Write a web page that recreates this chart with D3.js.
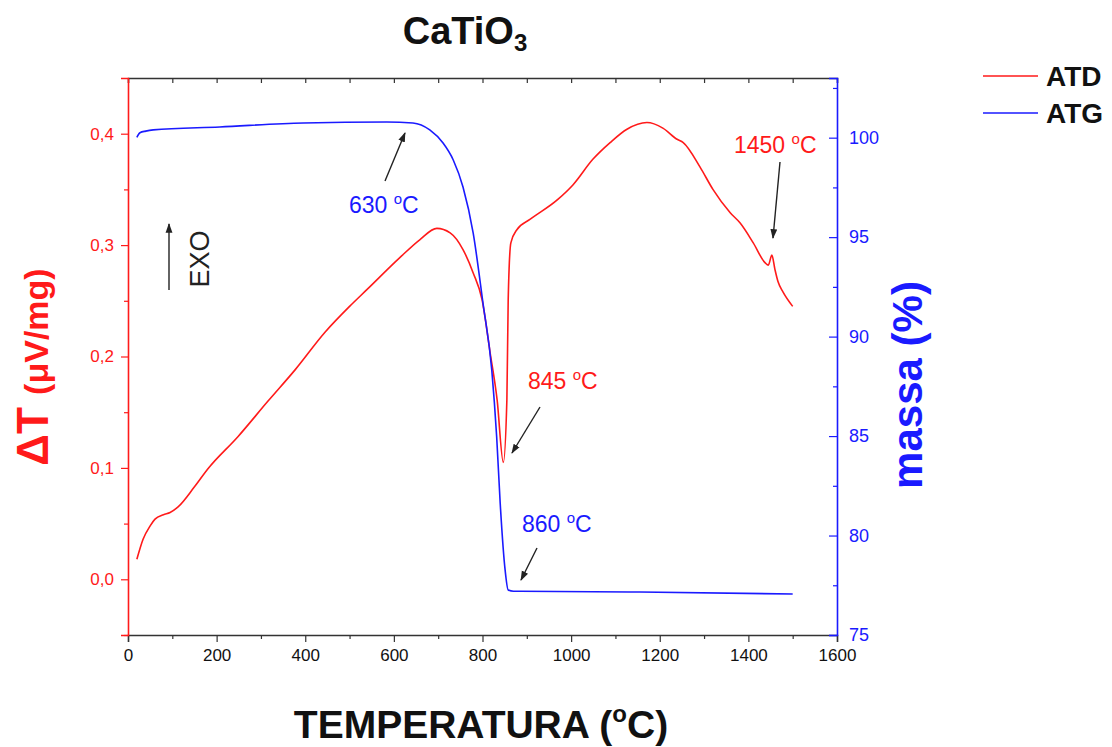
<!DOCTYPE html>
<html>
<head>
<meta charset="utf-8">
<script src="https://cdn.jsdelivr.net/npm/d3@7"></script>
<style>
  html, body { margin: 0; padding: 0; background: #fff; }
  svg { display: block; font-family: "Liberation Sans", Arial, sans-serif; }
</style>
</head>
<body>
<svg id="chart" width="1112" height="747"></svg>
<script>
// ---- data ----
const atdTemp = [20, 34, 50, 61, 80, 95, 113, 150, 180, 248, 316, 377, 445, 500, 539, 614, 659, 697, 727, 756, 779, 799, 817, 833, 847, 855, 858, 864, 878, 907, 970, 1004, 1049, 1088, 1126, 1171, 1207, 1239, 1253, 1291, 1320, 1359, 1381, 1411, 1438, 1445, 1453, 1460, 1467, 1478, 1500];
const atdValue = [0.018, 0.036, 0.048, 0.054, 0.058, 0.060, 0.065, 0.083, 0.099, 0.128, 0.160, 0.188, 0.222, 0.245, 0.260, 0.289, 0.305, 0.315, 0.311, 0.296, 0.275, 0.251, 0.204, 0.161, 0.105, 0.161, 0.251, 0.302, 0.314, 0.323, 0.341, 0.354, 0.377, 0.392, 0.404, 0.410, 0.405, 0.395, 0.392, 0.370, 0.350, 0.329, 0.320, 0.302, 0.284, 0.282, 0.291, 0.278, 0.267, 0.258, 0.245];
const atgTemp = [20, 27, 40, 57, 207, 396, 584, 643, 681, 711, 734, 756, 779, 801, 821, 832, 840, 851, 858, 870, 885, 1155, 1500];
const atgMass = [100.02, 100.25, 100.33, 100.39, 100.54, 100.74, 100.79, 100.74, 100.39, 99.73, 98.88, 97.52, 95.2, 91.7, 88.3, 84.95, 81.6, 78.27, 77.26, 77.2, 77.2, 77.16, 77.06];

const xTicks = [0, 200, 400, 600, 800, 1000, 1200, 1400, 1600];
const leftTicks = [0.0, 0.1, 0.2, 0.3, 0.4];
const rightTicks = [75, 80, 85, 90, 95, 100];
const seriesNames = ["ATD", "ATG"];
const seriesColors = ["#ff1a1a", "#1a1aff"];
const annotations = [
  {label: "630 ", color: "#1a1aff", tx: 349, ty: 213, ax1: 385, ay1: 181, ax2: 405, ay2: 133},
  {label: "845 ", color: "#ff1a1a", tx: 528, ty: 389, ax1: 540, ay1: 407, ax2: 512, ay2: 453},
  {label: "860 ", color: "#1a1aff", tx: 522, ty: 532, ax1: 537, ay1: 548, ax2: 521, ay2: 580},
  {label: "1450 ", color: "#ff1a1a", tx: 734, ty: 153, ax1: 780, ay1: 162, ax2: 773, ay2: 238}
];

// ---- layout ----
const svg = d3.select("#chart");
const L = 128, R = 837, T = 78, B = 635;
const x = d3.scaleLinear().domain([0, 1600]).range([L, R]);
const yL = d3.scaleLinear().domain([-0.05, 0.45]).range([B, T]);
const yR = d3.scaleLinear().domain([75, 103]).range([B, T]);
const fmtL = d => d3.format(".1f")(d).replace(".", ",");

svg.append("defs").append("marker")
  .attr("id", "arrow").attr("viewBox", "0 0 10 10").attr("refX", 9).attr("refY", 5)
  .attr("markerWidth", 7).attr("markerHeight", 7).attr("orient", "auto")
  .append("path").attr("d", "M0,1.5 L10,5 L0,8.5 Z").attr("fill", "#222");

// top axis (ticks inward)
const gTop = svg.append("g").attr("transform", `translate(0,${T})`)
  .call(d3.axisBottom(x).tickValues(d3.range(0, 1601, 100)).tickSize(5).tickFormat(""));
gTop.select(".domain").attr("stroke", "#333").attr("stroke-width", 1.5);
gTop.selectAll(".tick line").attr("stroke", "#333").attr("stroke-width", 1.2);

// bottom axis
const gBot = svg.append("g").attr("transform", `translate(0,${B})`)
  .call(d3.axisBottom(x).tickValues(d3.range(100, 1600, 200)).tickSize(4).tickFormat(""));
gBot.select(".domain").remove();
gBot.selectAll(".tick line").attr("stroke", "#333").attr("stroke-width", 1.2);
const gBot2 = svg.append("g").attr("transform", `translate(0,${B})`)
  .call(d3.axisBottom(x).tickValues(xTicks).tickSize(7).tickPadding(6).tickFormat(d3.format("d")));
gBot2.select(".domain").attr("stroke", "#333").attr("stroke-width", 1.5);
gBot2.selectAll(".tick line").attr("stroke", "#333").attr("stroke-width", 1.2);
gBot2.selectAll("text").attr("font-size", 17).attr("fill", "#111").attr("dy", "0.75em");

// left axis (red, ticks outward)
const gL1 = svg.append("g").attr("transform", `translate(${L},0)`)
  .call(d3.axisLeft(yL).tickValues([-0.05, 0.05, 0.15, 0.25, 0.35]).tickSize(4).tickFormat(""));
gL1.select(".domain").remove();
gL1.selectAll(".tick line").attr("stroke", "#ff1a1a").attr("stroke-width", 1.2);
const gL = svg.append("g").attr("transform", `translate(${L},0)`)
  .call(d3.axisLeft(yL).tickValues(leftTicks).tickSize(7).tickPadding(7).tickFormat(fmtL));
gL.select(".domain").attr("stroke", "#ff1a1a").attr("stroke-width", 1.6);
gL.selectAll(".tick line").attr("stroke", "#ff1a1a").attr("stroke-width", 1.2);
gL.selectAll("text").attr("font-size", 17).attr("fill", "#ff1a1a");

// right axis (blue, ticks inward)
const gR1 = svg.append("g").attr("transform", `translate(${R},0)`)
  .call(d3.axisRight(yR).tickValues([77.5, 82.5, 87.5, 92.5, 97.5, 102.5]).tickSize(-4).tickFormat(""));
gR1.select(".domain").remove();
gR1.selectAll(".tick line").attr("stroke", "#1a1aff").attr("stroke-width", 1.2);
const gR = svg.append("g").attr("transform", `translate(${R},0)`)
  .call(d3.axisRight(yR).tickValues(rightTicks).tickSize(-8).tickPadding(12).tickFormat(d3.format("d")));
gR.select(".domain").attr("stroke", "#1a1aff").attr("stroke-width", 1.6);
gR.selectAll(".tick line").attr("stroke", "#1a1aff").attr("stroke-width", 1.2);
gR.selectAll("text").attr("font-size", 18).attr("fill", "#1a1aff");

// curves
const atd = atdTemp.map((t, i) => [t, atdValue[i]]);
const atg = atgTemp.map((t, i) => [t, atgMass[i]]);
svg.append("path").datum(atd)
  .attr("d", d3.line().x(d => x(d[0])).y(d => yL(d[1])).curve(d3.curveMonotoneX))
  .attr("fill", "none").attr("stroke", seriesColors[0]).attr("stroke-width", 1.6);
svg.append("path").datum(atg)
  .attr("d", d3.line().x(d => x(d[0])).y(d => yR(d[1])).curve(d3.curveMonotoneX))
  .attr("fill", "none").attr("stroke", seriesColors[1]).attr("stroke-width", 1.6);

// annotations
annotations.forEach(a => {
  const t = svg.append("text").attr("x", a.tx).attr("y", a.ty)
    .attr("font-size", 23).attr("fill", a.color);
  t.append("tspan").text(a.label);
  t.append("tspan").attr("font-size", 15).attr("dy", -9).text("o");
  t.append("tspan").attr("dy", 9).text("C");
  svg.append("line").attr("x1", a.ax1).attr("y1", a.ay1).attr("x2", a.ax2).attr("y2", a.ay2)
    .attr("stroke", "#222").attr("stroke-width", 1.4).attr("marker-end", "url(#arrow)");
});

// EXO
svg.append("line").attr("x1", 169).attr("y1", 290).attr("x2", 169).attr("y2", 224)
  .attr("stroke", "#222").attr("stroke-width", 1.4).attr("marker-end", "url(#arrow)");
svg.append("text").attr("transform", "translate(209,259) rotate(-90)")
  .attr("text-anchor", "middle").attr("font-size", 27).attr("fill", "#222").text("EXO");

// title
const title = svg.append("text").attr("x", 465).attr("y", 44).attr("text-anchor", "middle")
  .attr("font-size", 38).attr("font-weight", "bold").attr("fill", "#111");
title.append("tspan").text("CaTiO");
title.append("tspan").attr("font-size", 24).attr("dy", 7).text("3");

// x label
const xl = svg.append("text").attr("x", 481).attr("y", 738).attr("text-anchor", "middle")
  .attr("font-size", 39).attr("font-weight", "bold").attr("fill", "#111");
xl.append("tspan").text("TEMPERATURA (");
xl.append("tspan").attr("font-size", 24).attr("dy", -16).text("o");
xl.append("tspan").attr("dy", 16).text("C)");

// left y label
const yl = svg.append("text").attr("transform", "translate(48,367) rotate(-90)")
  .attr("text-anchor", "middle").attr("font-weight", "bold").attr("fill", "#ff1a1a");
yl.append("tspan").attr("font-size", 44).text("ΔT ");
yl.append("tspan").attr("font-size", 34).text("(μV/mg)");

// right y label
svg.append("text").attr("transform", "translate(922,385) rotate(-90)")
  .attr("text-anchor", "middle").attr("font-size", 42).attr("font-weight", "bold")
  .attr("fill", "#1a1aff").text("massa (%)");

// legend
seriesNames.forEach((n, i) => {
  const yy = 76 + i * 37;
  svg.append("line").attr("x1", 983).attr("x2", 1038).attr("y1", yy).attr("y2", yy)
    .attr("stroke", seriesColors[i]).attr("stroke-width", 1.6);
  svg.append("text").attr("x", 1046).attr("y", yy + 10).attr("font-size", 28)
    .attr("font-weight", "bold").attr("fill", "#111").text(n);
});
</script>
</body>
</html>
